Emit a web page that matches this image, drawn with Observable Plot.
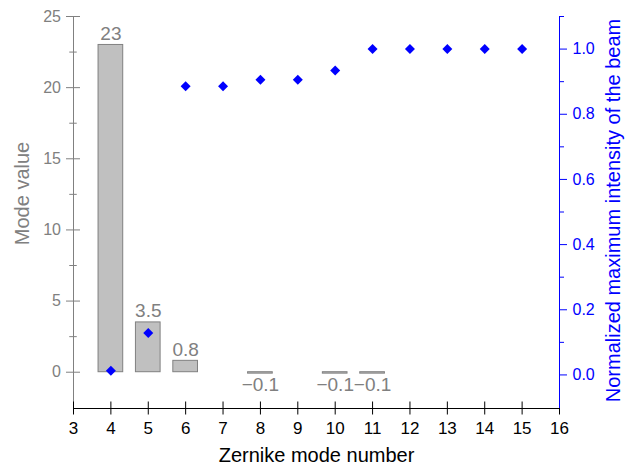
<!DOCTYPE html>
<html><head><meta charset="utf-8">
<script src="https://cdn.jsdelivr.net/npm/d3@7"></script>
<script src="https://cdn.jsdelivr.net/npm/@observablehq/plot@0.6"></script>
<style>
html,body{margin:0;padding:0;background:#fff;overflow:hidden;}
#wrap{position:relative;width:625px;height:468px;}
#wrap svg{position:absolute;left:0;top:0;}
</style></head><body><div id="wrap"></div>
<script>
// Data
const modes = [4, 5, 6, 7, 8, 9, 10, 11, 12, 13, 14, 15];
const intensity = [0.013, 0.129, 0.886, 0.886, 0.906, 0.906, 0.934, 1.0, 1.0, 1.0, 1.0, 1.0];
const barModes = [4, 5, 6, 8, 10, 11];
const barValues = [23, 3.5, 0.8, -0.1, -0.1, -0.1];
const xTicks = [3, 4, 5, 6, 7, 8, 9, 10, 11, 12, 13, 14, 15, 16];
const leftTicks = [0, 5, 10, 15, 20, 25];
const leftMinor = [2.5, 7.5, 12.5, 17.5, 22.5];
const rightTicks = [0, 0.2, 0.4, 0.6, 0.8, 1.0];
const rightMinor = [0.1, 0.3, 0.5, 0.7, 0.9, 1.1];

const W = 625, H = 468, mL = 73, mR = 66, mT = 16, mB = 60;
const fw = W - mL - mR, fh = H - mT - mB;
const gray = "#808080", blue = "#0000ff";
const font = "Arial, 'Liberation Sans', sans-serif";
const yLeftMin = -2.55, yLeftMax = 25;
const yRightMin = -0.103, yRightMax = 1.1;

const bars = barModes.map((m, i) => ({mode: m, value: barValues[i]}));
const pts = modes.map((m, i) => ({mode: m, v: intensity[i]}));
const fmt = d3.format("");

const p1 = Plot.plot({
  width: W, height: H, marginLeft: mL, marginRight: mR, marginTop: mT, marginBottom: mB,
  style: {fontFamily: font, fontSize: "16px", background: "white", overflow: "visible"},
  x: {domain: [3, 16]},
  y: {domain: [yLeftMin, yLeftMax]},
  marks: [
    Plot.rect(bars, {x1: d => d.mode - 0.33, x2: d => d.mode + 0.33, y1: 0, y2: "value", fill: "#c0c0c0", stroke: gray, strokeWidth: 1}),
    Plot.text(bars.filter(d => d.value >= 0), {x: "mode", y: "value", text: d => fmt(d.value), fill: gray, fontSize: 19, lineAnchor: "bottom", dy: -5}),
    Plot.text(bars.filter(d => d.value < 0), {x: "mode", y: "value", text: d => fmt(d.value), fill: gray, fontSize: 19, lineAnchor: "top", dy: 4}),
    Plot.ruleX([3], {stroke: gray}),
    Plot.tickY(leftTicks, {y: d => d, stroke: gray, insetLeft: -7, insetRight: fw - 7}),
    Plot.tickY(leftMinor, {y: d => d, stroke: gray, insetLeft: -3.75, insetRight: fw - 3.75}),
    Plot.axisY(leftTicks, {tickSize: 0, tickPadding: 12.5, fill: gray, fontSize: 16, label: null}),
    Plot.ruleY([yLeftMin], {stroke: "black"}),
    Plot.tickX(xTicks, {x: d => d, stroke: "black", insetTop: fh - 6.5, insetBottom: -6.5}),
    Plot.axisX(xTicks, {tickSize: 0, tickPadding: 13, fill: "black", fontSize: 17, label: null}),
    Plot.text(["Zernike mode number"], {frameAnchor: "bottom", textAnchor: "middle", dy: 53, lineAnchor: "bottom", fontSize: 20, fill: "black"}),
    Plot.text(["Mode value"], {frameAnchor: "left", textAnchor: "middle", rotate: -90, dx: -51, dy: -19, fontSize: 20, fill: gray})
  ]
});

const p2 = Plot.plot({
  width: W, height: H, marginLeft: mL, marginRight: mR, marginTop: mT, marginBottom: mB,
  style: {fontFamily: font, fontSize: "16px", background: "transparent", overflow: "visible"},
  x: {domain: [3, 16], axis: null},
  y: {domain: [yRightMin, yRightMax]},
  marks: [
    Plot.ruleX([16], {stroke: blue}),
    Plot.axisY(rightTicks, {anchor: "right", tickSize: 7, stroke: blue, fill: "none"}),
    Plot.axisY(rightMinor, {anchor: "right", tickSize: 4, stroke: blue, fill: "none"}),
    Plot.axisY(rightTicks, {anchor: "right", tickSize: 0, tickPadding: 13, fill: blue, fontSize: 16, tickFormat: d3.format(".1f"), label: null}),
    Plot.dot(pts, {x: "mode", y: "v", symbol: "diamond2", r: 4.5, fill: blue}),
    Plot.text(["Normalized maximum intensity of the beam"], {frameAnchor: "right", textAnchor: "middle", rotate: -90, dx: 54, dy: -2, fontSize: 20, fill: blue})
  ]
});

const wrap = document.getElementById("wrap");
wrap.appendChild(p1);
wrap.appendChild(p2);
</script>
</body></html>
